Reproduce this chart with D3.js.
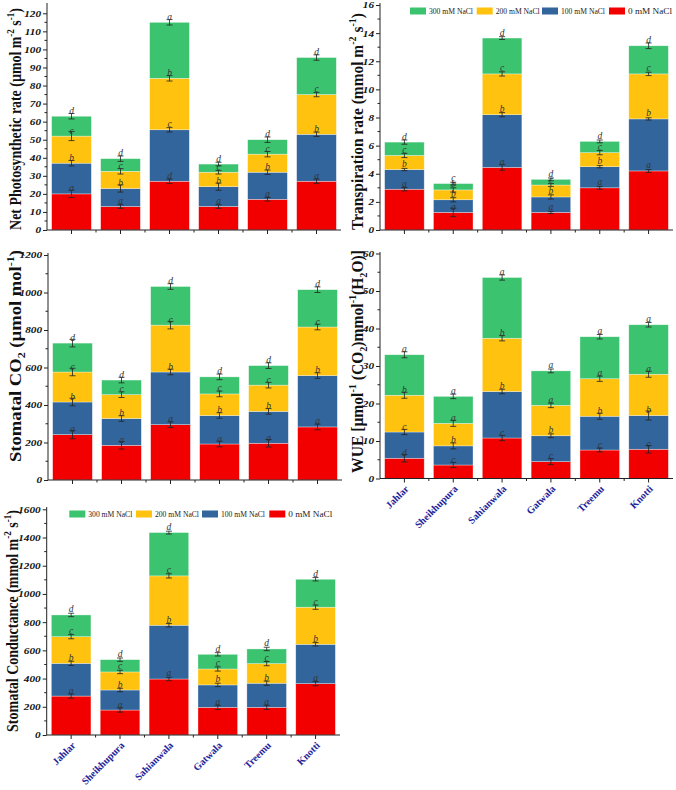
<!DOCTYPE html>
<html><head><meta charset="utf-8">
<script src="https://cdn.jsdelivr.net/npm/d3@7"></script>
<style>body{margin:0;background:#fff}svg{display:block}</style>
</head><body>
<svg id="c" width="676" height="790"></svg>
<script>
const sites = ["Jahlar","Sheikhupura","Sahianwala","Gatwala","Treemu","Knotti"];
const seriesNames = ["0 mM NaCl","100 mM NaCl","200 mM NaCl","300 mM NaCl"];
const seriesColors = ["#F20000","#31659B","#FFC20F","#3CC36F"];
const legendOrder = [3,2,1,0];

// Net photosynthetic rate
const pn0 = [20,13,27,13,17,27];
const pn100 = [17,10,28.5,11,15,26];
const pn200 = [15,9.5,28.5,8,10,22];
const pn300 = [11,7,31,4.5,8,20.5];
const pnErr = [[2,1,1.2,1,1,1.2],[1.5,2,1.2,2,1.2,1.2],[2.5,1.5,1.5,1,1.5,1.2],[1.5,1.5,1.5,1,1.5,1.5]];
const pnLetters = [["a","a","d","a","a","a"],["b","b","c","b","b","b"],["c","c","b","c","c","c"],["d","d","a","d","d","d"]];
const pnTicks = [0,10,20,30,40,50,60,70,80,90,100,110,120];

// Transpiration rate
const tr0 = [2.9,1.25,4.45,1.25,3.0,4.2];
const tr100 = [1.4,0.9,3.75,1.1,1.5,3.7];
const tr200 = [1.0,0.7,2.9,0.85,1.0,3.2];
const tr300 = [0.95,0.45,2.55,0.4,0.8,2.0];
const trErr = [[0.12,0.3,0.2,0.08,0.1,0.1],[0.08,0.15,0.15,0.15,0.08,0.08],[0.15,0.15,0.15,0.1,0.15,0.12],[0.15,0.1,0.1,0.1,0.1,0.2]];
const trLetters = [["a","a","a","a","a","a"],["b","b","b","b","b","b"],["c","b","c","c","c","c"],["d","c","d","d","d","d"]];
const trTicks = [0,2,4,6,8,10,12,14,16];

// Stomatal CO2
const ci0 = [242,185,295,192,196,283];
const ci100 = [174,143,281,152,170,274];
const ci200 = [160,127,250,115,140,259];
const ci300 = [154,78,206,91,104,199];
const ciErr = [[22,20,15,15,20,15],[20,15,15,15,15,15],[20,15,20,15,15,15],[20,15,15,15,15,15]];
const ciLetters = [["a","a","a","a","a","a"],["b","b","b","b","b","b"],["c","c","c","c","c","c"],["d","d","d","d","d","d"]];
const ciTicks = [0,200,400,600,800,1000,1200];

// WUE
const wue0 = [5.4,3.6,10.8,4.5,7.6,7.8];
const wue100 = [7.0,5.1,12.4,6.9,9.0,9.0];
const wue200 = [9.8,6.0,14.2,8.1,10.0,11.0];
const wue300 = [10.8,7.2,16.2,9.2,11.2,13.2];
const wueErr = [[1,0.7,0.7,0.8,0.5,1],[0.7,0.8,0.6,0.5,0.8,1.2],[0.8,0.8,0.7,0.6,0.7,0.8],[0.8,0.6,0.7,0.5,0.6,0.6]];
const wueLetters = [["d","c","c","c","c","c"],["c","b","b","b","b","b"],["b","a","b","a","a","a"],["a","a","a","a","a","a"]];
const wueTicks = [0,10,20,30,40,50,60];

// Stomatal conductance
const gs0 = [276,177,397,196,196,364];
const gs100 = [232,142,381,159,171,279];
const gs200 = [189,128,350,113,139,263];
const gs300 = [154,87,307,104,104,198];
const gsErr = [[15,15,12,15,15,15],[15,12,12,12,15,12],[15,12,15,15,15,15],[12,12,10,12,12,12]];
const gsLetters = [["a","a","a","a","a","a"],["b","b","b","b","b","b"],["c","c","c","c","c","c"],["d","d","d","d","d","d"]];
const gsTicks = [0,200,400,600,800,1000,1200,1400,1600];

const panels = [
  {vals:[pn0,pn100,pn200,pn300], err:pnErr, letters:pnLetters, ticks:pnTicks, minor:5, max:120,
   x0:47, x1:341, yb:230, yt:13.3, axTop:3, legend:false, xlabels:false,
   title:[["Net Photosynthetic rate (µmol m"],["-2","sup"],[" s"],["-1","sup"],[")"]], tx:15, ty0:8, ty1:230},
  {vals:[tr0,tr100,tr200,tr300], err:trErr, letters:trLetters, ticks:trTicks, minor:1, max:16,
   x0:380, x1:673, yb:230, yt:5, axTop:3, legend:true, ly:7.5, lx:[410,476.7,542,609], xlabels:false,
   title:[["Transpiration rate (mmol m"],["-2","sup"],[" s"],["-1","sup"],[")"]], tx:357, ty0:13, ty1:230},
  {vals:[ci0,ci100,ci200,ci300], err:ciErr, letters:ciLetters, ticks:ciTicks, minor:100, max:1200,
   x0:48, x1:342, yb:480, yt:255, axTop:253, legend:false, xlabels:false,
   title:[["Stomatal CO"],["2","sub"],[" (µmol mol"],["-1","sup"],[")"]], tx:15, ty0:250, ty1:462},
  {vals:[wue0,wue100,wue200,wue300], err:wueErr, letters:wueLetters, ticks:wueTicks, minor:5, max:60,
   x0:380, x1:673, yb:478.5, yt:253.5, axTop:252, legend:false, xlabels:true,
   title:[["WUE [µmol"],["-1","sup"],[" (CO"],["2","sub"],[")mmol"],["-1","sup"],["(H"],["2","sub"],["O)]"]], tx:357, ty0:250, ty1:473},
  {vals:[gs0,gs100,gs200,gs300], err:gsErr, letters:gsLetters, ticks:gsTicks, minor:100, max:1600,
   x0:46.7, x1:340, yb:735, yt:509.3, axTop:507, legend:true, ly:510.5, lx:[69.3,136,202,269.3], xlabels:true,
   title:[["Stomatal Conductance (mmol m"],["-2","sup"],[" s"],["-1","sup"],[")"]], tx:12, ty0:510, ty1:732}
];

const svg = d3.select("#c");
const serif = "'Liberation Serif','Times New Roman',serif";

panels.forEach(p => {
  const g = svg.append("g");
  const x = d3.scaleBand().domain(sites).range([p.x0, p.x1]).paddingInner(0.19).paddingOuter(0.095);
  const y = d3.scaleLinear().domain([0, p.max]).range([p.yb, p.yt]);
  const bw = x.bandwidth();

  sites.forEach((s, i) => {
    let cum = 0;
    p.vals.forEach((arr, k) => {
      const lo = cum, hi = cum + arr[i];
      cum = hi;
      g.append("rect")
        .attr("x", x(s)).attr("width", bw)
        .attr("y", y(hi)).attr("height", y(lo) - y(hi))
        .attr("fill", seriesColors[k])
        .attr("stroke", "#ffffff").attr("stroke-opacity", 0.55).attr("stroke-width", 0.6);
    });
  });
  sites.forEach((s, i) => {
    let cum = 0;
    const cx = x(s) + bw / 2;
    p.vals.forEach((arr, k) => {
      cum += arr[i];
      const e = p.err[k][i];
      const eg = g.append("g").attr("stroke", "#222").attr("stroke-width", 0.8);
      eg.append("line").attr("x1", cx).attr("x2", cx).attr("y1", y(cum + e)).attr("y2", y(cum - e));
      eg.append("line").attr("x1", cx - 3).attr("x2", cx + 3).attr("y1", y(cum + e)).attr("y2", y(cum + e));
      eg.append("line").attr("x1", cx - 3).attr("x2", cx + 3).attr("y1", y(cum - e)).attr("y2", y(cum - e));
      g.append("text").attr("x", cx).attr("y", y(cum) - 2.5)
        .attr("text-anchor", "middle").attr("font-family", serif).attr("font-style", "italic")
        .attr("font-size", 9.5).attr("fill", "#333").text(p.letters[k][i]);
    });
  });

  // y axis
  const yAxis = d3.axisLeft(y).tickValues(p.ticks).tickSize(4).tickFormat(d3.format("d"));
  const ya = g.append("g").attr("transform", `translate(${p.x0},0)`).call(yAxis);
  ya.select(".domain").remove();
  ya.selectAll("text").attr("font-family", serif).attr("font-weight", "bold").attr("font-style", "italic")
    .attr("font-size", 9).attr("fill", "#111").attr("x", -6)
    .each(function() {
      const L = this.getComputedTextLength();
      d3.select(this).attr("textLength", L * 1.25).attr("lengthAdjust", "spacingAndGlyphs");
    });
  ya.selectAll("line").attr("stroke", "#222");
  d3.range(p.minor, p.max, p.minor).filter(v => !p.ticks.includes(v)).forEach(v => {
    g.append("line").attr("x1", p.x0 - 2.5).attr("x2", p.x0).attr("y1", y(v)).attr("y2", y(v)).attr("stroke", "#222");
  });
  g.append("line").attr("x1", p.x0).attr("x2", p.x0).attr("y1", p.axTop).attr("y2", p.yb).attr("stroke", "#222").attr("stroke-width", 1);

  // x axis
  const xAxis = d3.axisBottom(x).tickSize(4).tickFormat("");
  const xa = g.append("g").attr("transform", `translate(0,${p.yb})`).call(xAxis);
  xa.select(".domain").remove();
  xa.selectAll("line").attr("stroke", "#222");
  g.append("line").attr("x1", p.x0).attr("x2", p.x1).attr("y1", p.yb).attr("y2", p.yb).attr("stroke", "#222");
  sites.forEach((s, i) => {
    if (i === 0) return;
    const bx = x(s) - x.step() * x.paddingInner() / 2;
    g.append("line").attr("x1", bx).attr("x2", bx).attr("y1", p.yb).attr("y2", p.yb + 2.5).attr("stroke", "#222");
  });
  if (p.xlabels) {
    sites.forEach(s => {
      const cx = x(s) + bw / 2 + 5;
      g.append("text").attr("transform", `translate(${cx},${p.yb + 11}) rotate(-45)`)
        .attr("text-anchor", "end").attr("font-family", serif).attr("font-weight", "bold")
        .attr("font-size", 10).attr("fill", "#22229a").text(s);
    });
  }

  // title: fixed glyph height, compressed along its length to fit the span
  const fs0 = 17;
  const t = g.append("text").attr("font-family", serif).attr("font-weight", "bold").attr("fill", "#111")
    .attr("text-anchor", "middle").attr("font-size", fs0);
  let shift = 0;
  p.title.forEach(([txt, kind]) => {
    const sp = t.append("tspan").text(txt);
    if (kind === "sup") { sp.attr("font-size", fs0 * 0.65).attr("dy", -fs0 * 0.4 - shift); shift = -fs0 * 0.4; }
    else if (kind === "sub") { sp.attr("font-size", fs0 * 0.65).attr("dy", fs0 * 0.25 - shift); shift = fs0 * 0.25; }
    else { if (shift !== 0) sp.attr("dy", -shift); shift = 0; }
  });
  const len = t.node().getComputedTextLength();
  const sx = (p.ty1 - p.ty0) / len;
  const cy = (p.ty0 + p.ty1) / 2;
  t.attr("transform", `translate(${p.tx + 6},${cy}) rotate(-90) scale(${sx},1)`);

  // legend
  if (p.legend) {
    legendOrder.forEach((k, j) => {
      g.append("rect").attr("x", p.lx[j]).attr("y", p.ly).attr("width", 16).attr("height", 7).attr("fill", seriesColors[k]);
      g.append("text").attr("x", p.lx[j] + 19).attr("y", p.ly + 6.8).attr("font-family", serif)
        .attr("font-size", 8).attr("fill", "#222")
        .attr("textLength", 44).attr("lengthAdjust", "spacingAndGlyphs").text(seriesNames[k]);
    });
  }
});
</script>
</body></html>
